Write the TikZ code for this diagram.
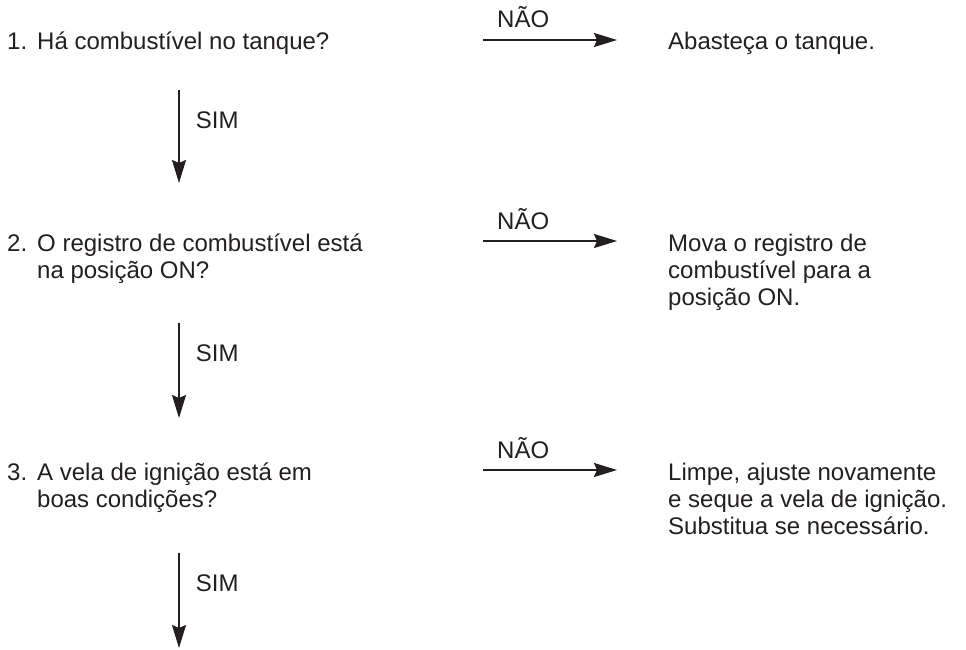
\documentclass[tikz,border=0pt]{standalone}
\usepackage{fontspec}
\setmainfont{Liberation Sans}
\usetikzlibrary{positioning, arrows.meta}
\definecolor{ink}{HTML}{231F20}

\begin{document}
\begin{tikzpicture}[x=1pt, y=-1pt,
   txt/.style={inner sep=0pt, anchor=base west, align=left, text=ink,
         font=\fontsize{24}{27}\selectfont},
   lbl/.style={inner sep=0pt, text=ink, font=\fontsize{24}{27}\selectfont},
   arr/.style={-{Stealth[length=23pt, width=14pt, inset=3pt]}, line width=1.8pt, draw=ink},
  ]
  \useasboundingbox (0,0) rectangle (966,650);

  % questions (base = last line)
  \node[txt] (q1) at (7,50) {\makebox[30pt][l]{1.}Há combustível no tanque?};
  \node[txt] (q2) at (7,278) {\makebox[30pt][l]{2.}O registro de combustível está\\
    \hspace*{30pt}na posição ON?};
  \node[txt] (q3) at (7,507) {\makebox[30pt][l]{3.}A vela de ignição está em\\
    \hspace*{30pt}boas condições?};

  % answers
  \node[txt] (a1) at (668,50) {Abasteça o tanque.};
  \node[txt] (a2) at (668,305) {Mova o registro de\\combustível para a\\posição ON.};
  \node[txt] (a3) at (668,534) {Limpe, ajuste novamente\\e seque a vela de ignição.\\Substitua se necessário.};

  \coordinate (fim) at (179,648);

  % NAO
  \foreach \i/\dq/\da in {1/-10/-10, 2/-37/-64, 3/-37/-64}{
    \draw[arr] ([shift={(476,\dq)}]q\i.base west) --
      node[lbl, pos=0.3, anchor=base, yshift=12pt] {NÃO}
      ([shift={(-51,\da)}]a\i.base west);
  }

  % SIM
  \draw[arr] ([shift={(172,40)}]q1.base west) --
    node[lbl, pos=0.41, anchor=base west, xshift=16pt] {SIM} ([shift={(172,-95)}]q2.base west);
  \draw[arr] ([shift={(172,45)}]q2.base west) --
    node[lbl, pos=0.41, anchor=base west, xshift=16pt] {SIM} ([shift={(172,-89)}]q3.base west);
  \draw[arr] ([shift={(172,46)}]q3.base west) --
    node[lbl, pos=0.41, anchor=base west, xshift=16pt] {SIM} (fim);
\end{tikzpicture}
\end{document}
